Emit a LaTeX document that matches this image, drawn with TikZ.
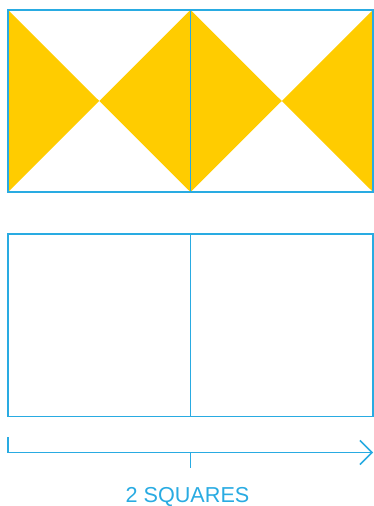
\documentclass[tikz,border=0pt]{standalone}
\usepackage{fontspec}
\setmainfont{Liberation Sans}
\usetikzlibrary{arrows.meta, positioning}
\definecolor{lineblue}{RGB}{41,171,226}
\definecolor{bowyellow}{RGB}{255,204,0}

\begin{document}
\begin{tikzpicture}[
    x=0.02cm, y=-0.02cm,
    every node/.style={font=\fontsize{12.3}{14}\selectfont},
    frame/.style={draw=lineblue, line width=0.9pt},
    wedge/.style={fill=bowyellow},
    axis/.style={draw=lineblue, line width=0.9pt,
                 -{Straight Barb[length=0.24cm, width=0.48cm, line width=0.9pt]}},
    caption/.style={text=lineblue, anchor=base}
]
\useasboundingbox (0,0) rectangle (374,506);

% top pair of squares with bow ties
\fill[wedge] (8,10)     -- (99.25,101)  -- (8,192)     -- cycle;
\fill[wedge] (190.5,10) -- (99.25,101)  -- (190.5,192) -- cycle;
\fill[wedge] (190.5,10) -- (281.75,101) -- (190.5,192) -- cycle;
\fill[wedge] (373,10)   -- (281.75,101) -- (373,192)   -- cycle;
\draw[frame] (8,10) rectangle (373,192);
\draw[frame] (190.5,10) -- (190.5,192);

% bottom pair of squares
\draw[frame] (8,234) rectangle (373,416.5);
\draw[frame] (190.5,234) -- (190.5,416.5);

% measure line
\coordinate (start) at (8,452.5);
\coordinate (mid)   at (190.5,452.5);
\coordinate (stop)  at (373,452.5);
\draw[frame] (8,437) -- (start);
\draw[frame] (mid) -- (190.5,468);
\draw[axis] (start) -- (stop);

\node[caption] (label) at (187.5,502) {2 SQUARES};
\end{tikzpicture}
\end{document}
